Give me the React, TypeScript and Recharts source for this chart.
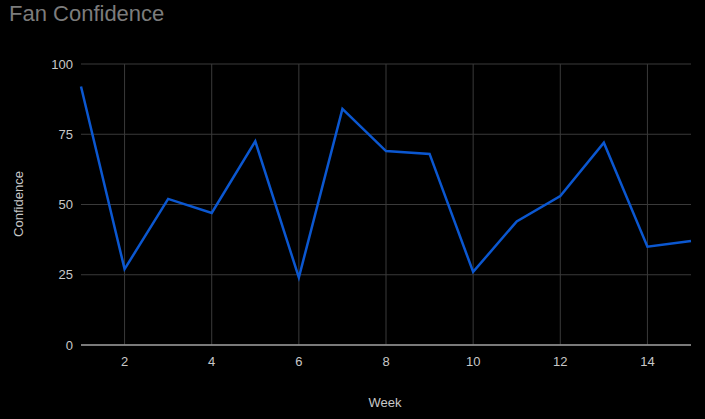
import { CartesianGrid, Label, Line, LineChart, XAxis, YAxis } from "recharts";

const weeks = [1, 2, 3, 4, 5, 6, 7, 8, 9, 10, 11, 12, 13, 14, 15];
const confidence = [92, 27, 52, 47, 72.5, 24, 84, 69, 68, 26, 44, 53, 72, 35, 37];
const xTicks = [2, 4, 6, 8, 10, 12, 14];
const yTicks = [0, 25, 50, 75, 100];
const xDomain: [number, number] = [1, 15];

const data = weeks.map((week, i) => ({ week, confidence: confidence[i] }));

const FONT = "'Liberation Sans', Arial, sans-serif";
const TICK = { fill: "#c8c8c8", fontSize: 13, fontFamily: FONT };

// vertical grid only at the labelled weeks, no border lines at the plot edges
const verticalGrid = ({ offset }: any) =>
  xTicks.map((t) => offset.left + ((t - xDomain[0]) / (xDomain[1] - xDomain[0])) * offset.width);

export default function App() {
  return (
    <div style={{ position: "absolute", left: 0, top: 0, width: 705, height: 419, background: "#000" }}>
      <div
        style={{
          position: "absolute",
          left: 9,
          top: 1,
          fontFamily: FONT,
          fontSize: 22,
          color: "#7c7c7c",
          lineHeight: "26px",
        }}
      >
        Fan Confidence
      </div>
      <LineChart width={705} height={419} data={data} margin={{ top: 64, right: 14, left: 0, bottom: 44 }}>
        <CartesianGrid stroke="#3a3a3a" strokeWidth={1} verticalCoordinatesGenerator={verticalGrid} />
        <XAxis
          dataKey="week"
          type="number"
          domain={xDomain}
          ticks={xTicks}
          height={30}
          tickLine={false}
          tickMargin={6}
          axisLine={{ stroke: "#9a9a9a", strokeWidth: 1.5 }}
          tick={TICK}
        >
          <Label
            content={() => (
              <text x={385} y={407} textAnchor="middle" fill="#c8c8c8" fontSize={13} fontFamily={FONT}>
                Week
              </text>
            )}
          />
        </XAxis>
        <YAxis
          type="number"
          domain={[0, 100]}
          ticks={yTicks}
          width={81}
          tickLine={false}
          axisLine={false}
          tick={TICK}
        >
          <Label
            content={() => (
              <text
                x={23}
                y={204}
                transform="rotate(-90 23 204)"
                textAnchor="middle"
                fill="#c8c8c8"
                fontSize={13}
                fontFamily={FONT}
              >
                Confidence
              </text>
            )}
          />
        </YAxis>
        <Line
          type="linear"
          dataKey="confidence"
          stroke="#0b57d0"
          strokeWidth={2.5}
          dot={false}
          isAnimationActive={false}
        />
      </LineChart>
    </div>
  );
}
